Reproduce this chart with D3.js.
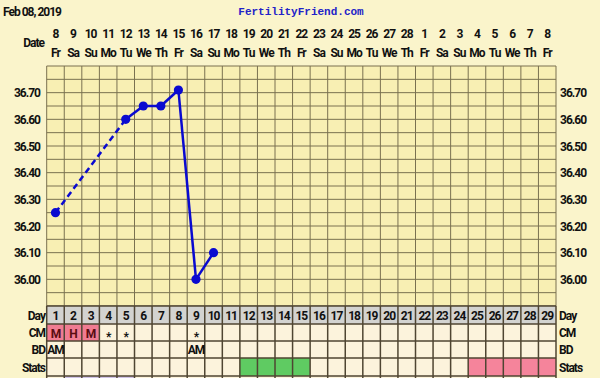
<!DOCTYPE html>
<html>
<head>
<meta charset="utf-8">
<script src="https://cdn.jsdelivr.net/npm/d3@7"></script>
<style>
  html, body { margin: 0; padding: 0; background: #faf4cb; }
  svg { display: block; }
  text { font-family: Roboto, "Liberation Sans", sans-serif; font-weight: bold; letter-spacing: -1px; fill: #111; }
</style>
</head>
<body>
<svg id="chart" width="600" height="378"></svg>
<script>
// chart data
const days = d3.range(1, 30);
const dates = [8,9,10,11,12,13,14,15,16,17,18,19,20,21,22,23,24,25,26,27,28,1,2,3,4,5,6,7,8];
const weekdays = ["Fr","Sa","Su","Mo","Tu","We","Th","Fr","Sa","Su","Mo","Tu","We","Th","Fr","Sa","Su","Mo","Tu","We","Th","Fr","Sa","Su","Mo","Tu","We","Th","Fr"];
const temps = [36.25, null, null, null, 36.60, 36.65, 36.65, 36.71, 36.00, 36.10];
const tempTicks = [36.00, 36.10, 36.20, 36.30, 36.40, 36.50, 36.60, 36.70];
const cm = {1: "M", 2: "H", 3: "M", 4: "*", 5: "*", 9: "*"};
const cmFlow = [1, 2, 3];
const bd = {1: "AM", 9: "AM"};
const statsGreen = [12, 13, 14, 15];
const statsPink = [25, 26, 27, 28, 29];

const svg = d3.select("#chart");
const left = 46.7, right = 556;
const plotTop = 66, tempBottom = 306;

const x = d3.scaleBand().domain(days).range([left, right]);
const y = d3.scaleLinear().domain([35.9, 36.8]).range([tempBottom, plotTop]);
const cx = d => x(d) + x.bandwidth() / 2;

// header
svg.append("text").attr("x", 3).attr("y", 16).style("font-size", "12px").text("Feb 08, 2019");
svg.append("text").attr("x", 301).attr("y", 15).attr("text-anchor", "middle")
  .style("font-family", "'Liberation Mono', monospace").style("font-size", "11px")
  .style("letter-spacing", "0px").style("fill", "#2323c8").text("FertilityFriend.com");
svg.append("text").attr("x", 44).attr("y", 47).attr("text-anchor", "end").style("font-size", "12px").text("Date");

svg.selectAll(".dnum").data(days).enter().append("text")
  .attr("x", d => cx(d)).attr("y", 38).attr("text-anchor", "middle").style("font-size", "12px")
  .text((d, i) => dates[i]);
svg.selectAll(".wday").data(days).enter().append("text")
  .attr("x", d => cx(d)).attr("y", 57).attr("text-anchor", "middle").style("font-size", "12px")
  .text((d, i) => weekdays[i]);

// temperature grid
svg.append("rect").attr("x", left).attr("y", plotTop).attr("width", right - left)
  .attr("height", tempBottom - plotTop).attr("fill", "#f8efb3");
const gridG = svg.append("g").attr("stroke", "#7a7150").attr("stroke-width", 1);
gridG.selectAll("line.h").data(d3.range(0, 19)).enter().append("line")
  .attr("x1", left).attr("x2", right)
  .attr("y1", i => y(35.9 + i * 0.05)).attr("y2", i => y(35.9 + i * 0.05));
gridG.selectAll("line.v").data(days.concat([30])).enter().append("line")
  .attr("x1", d => d === 30 ? right : x(d)).attr("x2", d => d === 30 ? right : x(d))
  .attr("y1", plotTop).attr("y2", tempBottom);

// temperature axis labels
svg.selectAll(".tl").data(tempTicks).enter().append("text")
  .attr("x", 40).attr("y", d => y(d) + 4.5).attr("text-anchor", "end").style("font-size", "12px")
  .text(d => d.toFixed(2));
svg.selectAll(".tr").data(tempTicks).enter().append("text")
  .attr("x", 560).attr("y", d => y(d) + 4.5).style("font-size", "12px")
  .text(d => d.toFixed(2));

// table rows
const rows = [
  {name: "Day", y0: 306, y1: 324},
  {name: "CM", y0: 324, y1: 341},
  {name: "BD", y0: 341, y1: 358},
  {name: "Stats", y0: 358, y1: 376},
  {name: "", y0: 376, y1: 394}
];
rows.forEach(r => {
  svg.selectAll(null).data(days).enter().append("rect")
    .attr("x", d => x(d)).attr("y", r.y0).attr("width", x.bandwidth()).attr("height", r.y1 - r.y0)
    .attr("fill", d => {
      if (r.name === "Day") return "#d3d3d0";
      if (r.name === "CM" && cmFlow.includes(d)) return "#f07c92";
      if (r.name === "Stats" && statsGreen.includes(d)) return "#5fcb62";
      if (r.name === "Stats" && statsPink.includes(d)) return "#f5849b";
      if (r.name === "" && d >= 2 && d <= 5) return "#cfc3e6";
      return "#fcf3dc";
    });
  if (r.name) {
    svg.append("text").attr("x", 45).attr("y", (r.y0 + r.y1) / 2 + 4.5).attr("text-anchor", "end")
      .style("font-size", "12px").text(r.name);
    svg.append("text").attr("x", 559).attr("y", (r.y0 + r.y1) / 2 + 4.5)
      .style("font-size", "12px").text(r.name);
  }
});
const tbl = svg.append("g").attr("stroke", "#4f4532");
rows.forEach(r => {
  tbl.append("line").attr("x1", left).attr("x2", right).attr("y1", r.y0).attr("y2", r.y0).attr("stroke-width", 1.5);
});
tbl.selectAll("line.tv").data(days.concat([30])).enter().append("line")
  .attr("x1", d => d === 30 ? right : x(d)).attr("x2", d => d === 30 ? right : x(d))
  .attr("y1", 306).attr("y2", 378).attr("stroke-width", 1.5);

svg.selectAll(".daynum").data(days).enter().append("text")
  .attr("x", d => cx(d)).attr("y", 320).attr("text-anchor", "middle").style("font-size", "12px")
  .text(d => d);
svg.selectAll(".cm").data(Object.keys(cm).map(Number)).enter().append("text")
  .attr("x", d => cx(d)).attr("y", d => cm[d] === "*" ? 341 : 337.5).attr("text-anchor", "middle")
  .style("font-size", "12px").style("fill", d => cm[d] === "*" ? "#111" : "#5a0d12")
  .text(d => cm[d]);
svg.selectAll(".bd").data(Object.keys(bd).map(Number)).enter().append("text")
  .attr("x", d => x(d) + 0.5).attr("y", 354).style("font-size", "12px")
  .text(d => bd[d]);

// temperature line
const pts = temps.map((t, i) => ({day: i + 1, t})).filter(p => p.t !== null);
const segs = d3.pairs(pts);
svg.selectAll(".seg").data(segs).enter().append("line")
  .attr("x1", s => cx(s[0].day)).attr("y1", s => y(s[0].t))
  .attr("x2", s => cx(s[1].day)).attr("y2", s => y(s[1].t))
  .attr("stroke", "#0a0ad0").attr("stroke-width", 2.5)
  .attr("stroke-dasharray", s => s[1].day - s[0].day > 1 ? "6,4" : null);
svg.selectAll(".pt").data(pts).enter().append("circle")
  .attr("cx", p => cx(p.day)).attr("cy", p => y(p.t)).attr("r", 4.6)
  .attr("fill", "#0a0ad0");
</script>
</body>
</html>
